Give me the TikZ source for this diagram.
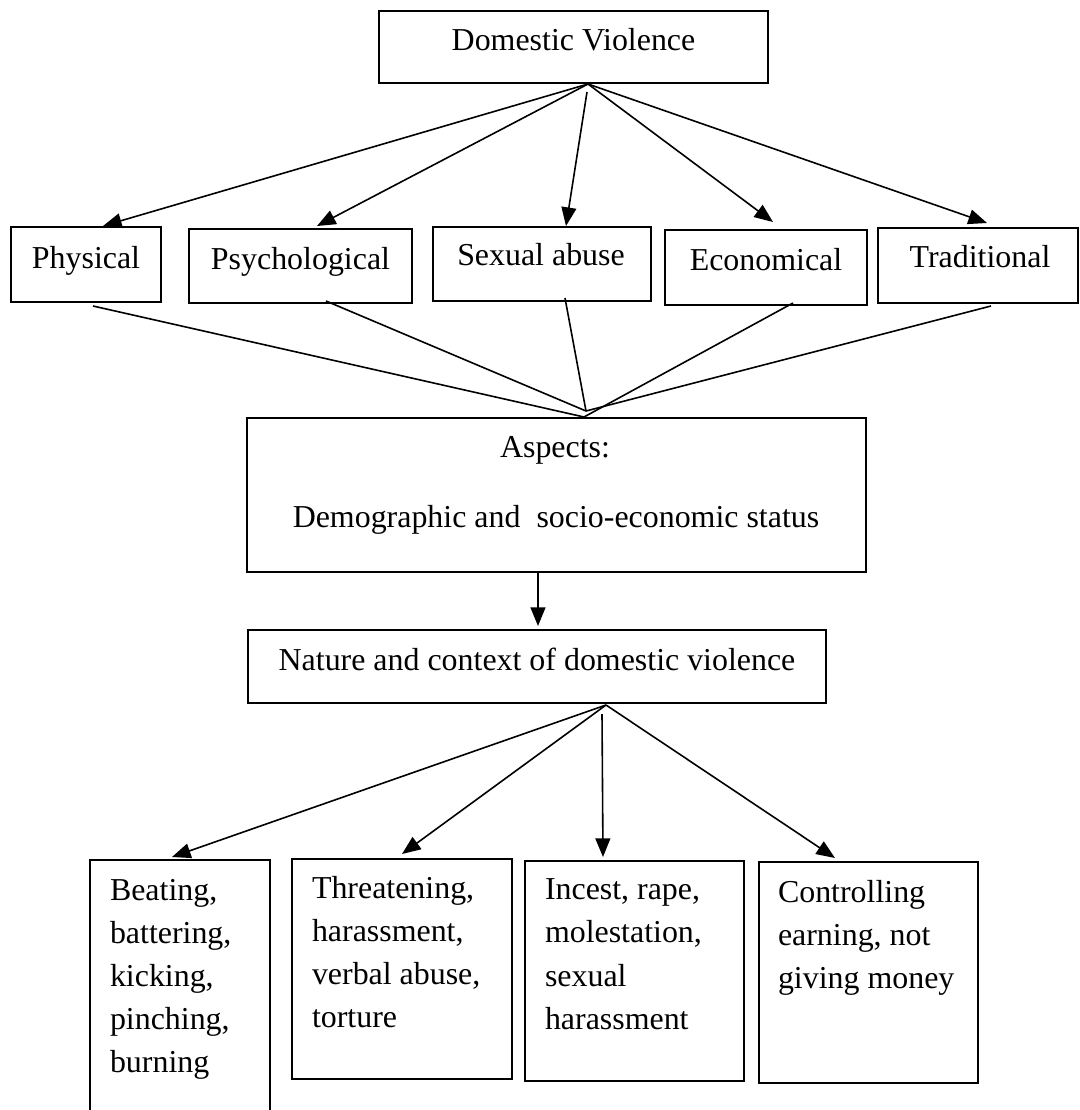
\documentclass[tikz,border=0pt]{standalone}
\usepackage{fontspec}
\setmainfont{Liberation Serif}
\usetikzlibrary{arrows.meta,calc}
\begin{document}
\begin{tikzpicture}[
  x=0.376pt, y=-0.376pt,
  every node/.style={font=\fontsize{12}{16.2}\selectfont, inner sep=0pt, outer sep=0pt},
  box/.style 2 args={draw, line width=0.75pt, minimum width=#1*0.376pt, minimum height=#2*0.376pt},
  word/.style={anchor=base},
  lines/.style={anchor=north west, align=flush left, text width=68pt},
  arr/.style={draw, line width=0.6pt, -{Triangle[length=7pt,width=5.6pt]}},
  link/.style={draw, line width=0.6pt}
]
\useasboundingbox (0,0) rectangle (1080,1110);

\node[box={389}{72}] (dv) at (573.5,47) {};
\node[word] (dvtext) at (573.5,50) {Domestic Violence};

\node[box={150}{75}] (phys) at (86,264.5) {};
\node[box={223}{74}] (psych) at (300.5,266) {};
\node[box={218}{74}] (sex) at (542,264) {};
\node[box={202}{75}] (econ) at (766,267.5) {};
\node[box={200}{75}] (trad) at (978,265.5) {};
\node[word] (physt) at (86,268) {Physical};
\node[word] (psycht) at (300.5,269) {Psychological};
\node[word] (sext) at (541,265) {Sexual abuse};
\node[word] (econt) at (766,270) {Economical};
\node[word] (tradt) at (980,267) {Traditional};

\node[box={619}{154}] (asp) at (556.5,495) {};
\node[word] (aspt) at (555,457) {Aspects:};
\node[word] (demot) at (556,527) {Demographic and\ \ socio-economic status};

\node[box={578}{73}] (nat) at (537,666.5) {};
\node[word] (natt) at (537,670) {Nature and context of domestic violence};

\node[box={180}{256}] (beat) at (180,988) {};
\node[box={220}{220}] (threat) at (402,969) {};
\node[box={219}{220}] (incest) at (634.5,971) {};
\node[box={219}{221}] (ctrl) at (868.5,972.5) {};
\node[lines] (beatt) at (110,879) {Beating,\\battering,\\kicking,\\pinching,\\burning};
\node[lines] (threatt) at (312,876) {Threatening,\\harassment,\\verbal abuse,\\torture};
\node[lines] (incestt) at (545,879) {Incest, rape,\\molestation,\\sexual\\harassment};
\node[lines] (ctrlt) at (778,880) {Controlling\\earning, not\\giving money};

\coordinate (dvapex) at (588,84);
\coordinate (meetlow) at (584,417);
\coordinate (meethigh) at (586,411);
\coordinate (natapex) at (606,705);

\draw[arr] (dvapex) -- ($(phys.north)+(17,-1)$);
\draw[arr] (dvapex) -- ($(psych.north)+(16.5,-3)$);
\draw[arr] ($(dvapex)+(-1,8)$) -- ($(sex.north)+(24,-1)$);
\draw[arr] (dvapex) -- ($(econ.north)+(7,-8)$);
\draw[arr] (dvapex) -- ($(trad.north)+(9,-5)$);

\draw[link] ($(phys.south)+(7,4)$) -- (meetlow);
\draw[link] ($(psych.south)+(25.5,-2)$) -- (meethigh);
\draw[link] ($(sex.south)+(23,-3)$) -- (meethigh);
\draw[link] ($(econ.south)+(27,-2)$) -- (meetlow);
\draw[link] ($(trad.south)+(13,3)$) -- (meethigh);

\draw[arr] ($(asp.south)+(-18.5,1)$) -- ($(nat.north)+(1,-4)$);

\draw[arr] (natapex) -- ($(beat.north)+(-8,-3)$);
\draw[arr] (natapex) -- ($(threat.north)+(0,-5)$);
\draw[arr] ($(natapex)+(-4,9)$) -- ($(incest.north)+(-31.5,-4)$);
\draw[arr] (natapex) -- ($(ctrl.north)+(-33.5,-4)$);
\end{tikzpicture}
\end{document}
